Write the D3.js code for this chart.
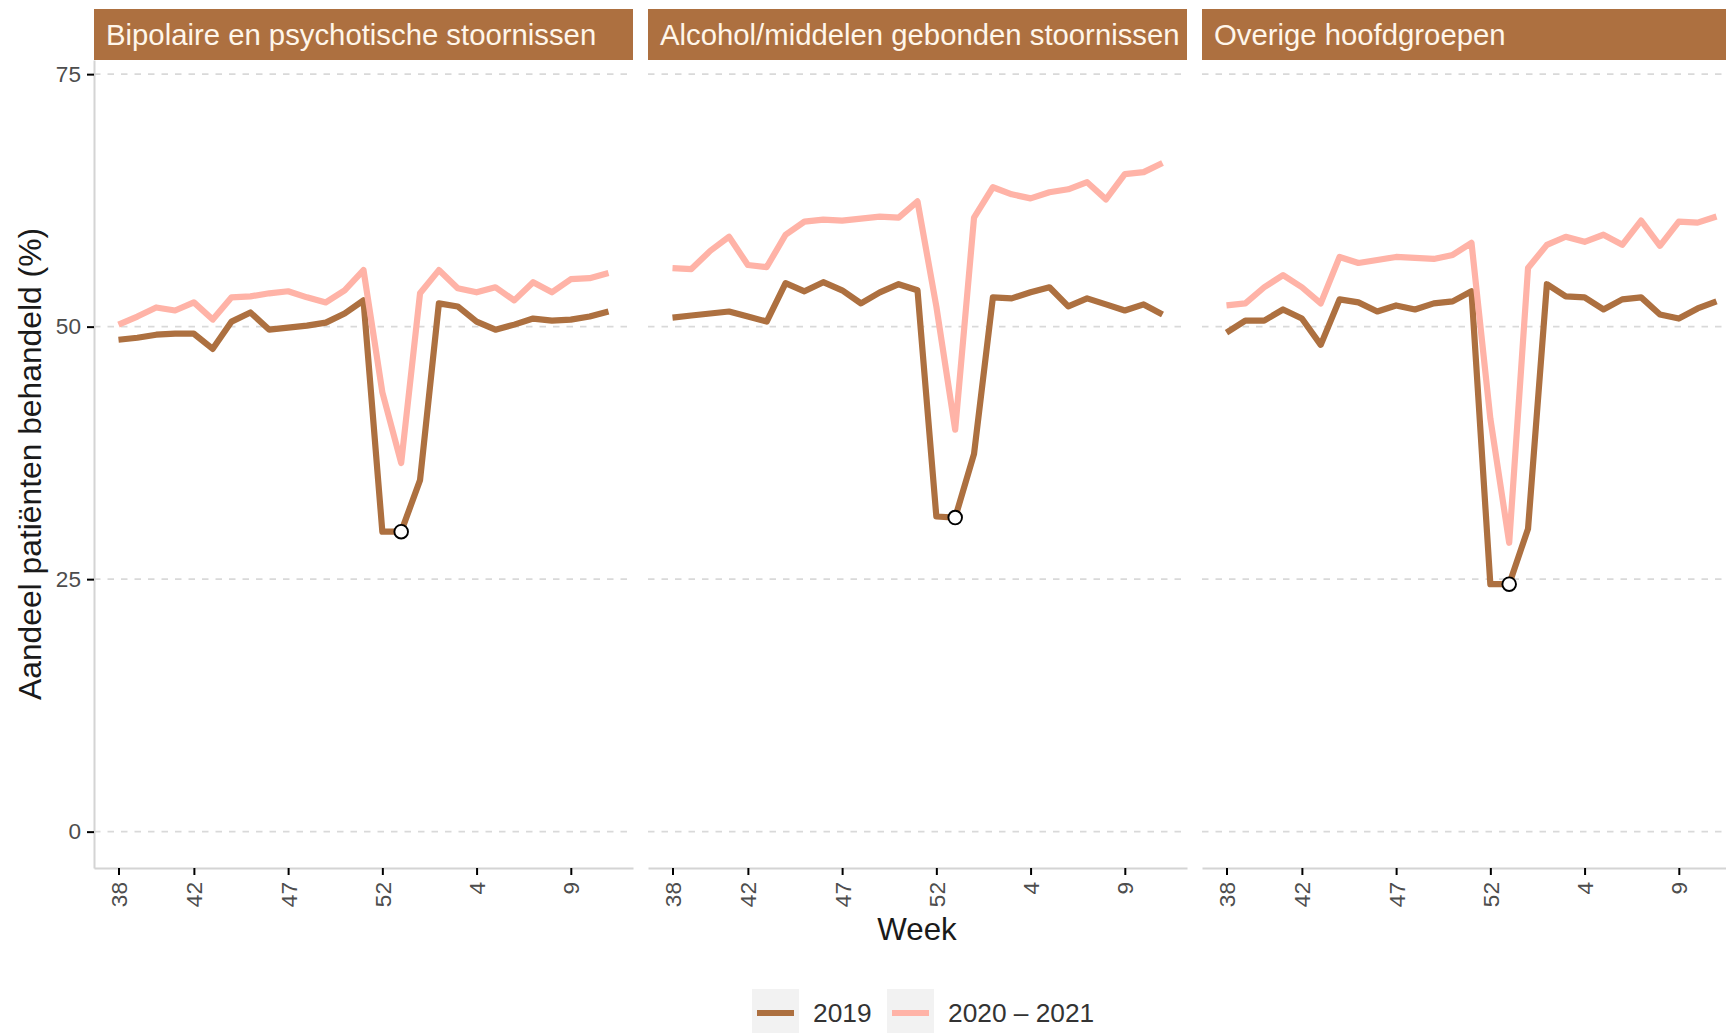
<!DOCTYPE html>
<html>
<head>
<meta charset="utf-8">
<script src="https://cdn.jsdelivr.net/npm/d3@7"></script>
<style>
  body { margin: 0; background: #fff; }
  svg { display: block; font-family: "Liberation Sans", Arial, sans-serif; }
</style>
</head>
<body>
<svg id="chart" width="1726" height="1033"></svg>
<script>
// week labels along the x axis (2020 had a week 53)
const weekLabels = [38, 39, 40, 41, 42, 43, 44, 45, 46, 47, 48, 49, 50, 51, 52, 53,
                    1, 2, 3, 4, 5, 6, 7, 8, 9, 10, 11];
const tickWeeks = [38, 42, 47, 52, 4, 9];
const yTicks = [0, 25, 50, 75];

const panelTitles = ["Bipolaire en psychotische stoornissen",
                     "Alcohol/middelen gebonden stoornissen",
                     "Overige hoofdgroepen"];
const seriesNames = ["2019", "2020 \u2013 2021"];

// share of patients treated (%) per week
const bipolar2019 = [48.7, 48.9, 49.2, 49.3, 49.3, 47.8, 50.5, 51.4, 49.7, 49.9, 50.1, 50.4, 51.3, 52.6,
                     29.7, 29.7, 34.8, 52.3, 52.0, 50.5, 49.7, 50.2, 50.8, 50.6, 50.7, 51.0, 51.5];
const bipolar2021 = [50.2, 51.0, 51.9, 51.6, 52.4, 50.7, 52.9, 53.0, 53.3, 53.5, 52.9, 52.4, 53.6, 55.6,
                     43.5, 36.5, 53.3, 55.6, 53.8, 53.4, 53.9, 52.6, 54.4, 53.4, 54.7, 54.8, 55.3];
const alcohol2019 = [50.9, 51.1, 51.3, 51.5, 51.0, 50.5, 54.3, 53.5, 54.4, 53.6, 52.3, 53.4, 54.2, 53.6,
                     31.2, 31.1, 37.4, 52.9, 52.8, 53.4, 53.9, 52.0, 52.8, 52.2, 51.6, 52.2, 51.2];
const alcohol2021 = [55.8, 55.7, 57.5, 58.9, 56.1, 55.9, 59.1, 60.4, 60.6, 60.5, 60.7, 60.9, 60.8, 62.4,
                     52.0, 39.8, 60.8, 63.8, 63.1, 62.7, 63.3, 63.6, 64.3, 62.6, 65.1, 65.3, 66.2];
const overig2019 = [49.4, 50.6, 50.6, 51.7, 50.8, 48.2, 52.7, 52.4, 51.5, 52.1, 51.7, 52.3, 52.5, 53.5,
                    24.5, 24.5, 30.0, 54.2, 53.0, 52.9, 51.7, 52.7, 52.9, 51.2, 50.8, 51.8, 52.5];
const overig2021 = [52.1, 52.3, 53.9, 55.1, 53.9, 52.3, 56.9, 56.3, 56.6, 56.9, 56.8, 56.7, 57.1, 58.3,
                    40.9, 28.6, 55.8, 58.1, 58.9, 58.4, 59.1, 58.1, 60.5, 58.0, 60.4, 60.3, 60.9];

const markerWeek = 53; // highlighted point on the 2019 line

const panelData = [
    [bipolar2019, bipolar2021],
    [alcohol2019, alcohol2021],
    [overig2019, overig2021]
];

const colors = ["#ad7040", "#ffb3a7"];

const svg = d3.select("#chart");

const panelLeft = [94, 648, 1202];
const panelW = 539;
const panelTop = 60;
const panelH = 808;
const stripTop = 9;

const x = d3.scaleLinear()
    .domain([-1.3, weekLabels.length - 1 + 1.3])
    .range([0, panelW]);

const y = d3.scaleLinear()
    .domain([-3.6, 76.4])
    .range([panelH, 0]);

const line = d3.line()
    .x((d, i) => x(i))
    .y(d => y(d));

panelData.forEach((series, p) => {
    const g = svg.append("g")
        .attr("transform", `translate(${panelLeft[p]}, ${panelTop})`);

    // strip
    svg.append("rect")
        .attr("x", panelLeft[p])
        .attr("y", stripTop)
        .attr("width", panelW)
        .attr("height", panelTop - stripTop)
        .attr("fill", "#ad7040");
    svg.append("text")
        .attr("x", panelLeft[p] + 12)
        .attr("y", 45)
        .attr("fill", "#fff6ea")
        .style("font-size", "29.3px")
        .text(panelTitles[p]);

    // gridlines
    g.selectAll(".grid")
        .data(yTicks)
        .enter()
        .append("line")
        .attr("x1", 0)
        .attr("x2", panelW)
        .attr("y1", d => y(d))
        .attr("y2", d => y(d))
        .attr("stroke", "#d9d9d9")
        .attr("stroke-width", 1.6)
        .attr("stroke-dasharray", "6.5 7");

    // x axis
    const xAxis = d3.axisBottom(x)
        .tickValues(tickWeeks.map(w => weekLabels.indexOf(w)))
        .tickFormat(i => weekLabels[i])
        .tickSize(7)
        .tickSizeOuter(0);
    const xg = g.append("g")
        .attr("transform", `translate(0, ${panelH})`)
        .call(xAxis);
    xg.select(".domain").attr("stroke", "#d4d4d4").attr("stroke-width", 2);
    xg.selectAll(".tick line").attr("stroke", "#000").attr("stroke-width", 2);
    xg.selectAll(".tick text")
        .attr("transform", "rotate(-90)")
        .attr("x", -14)
        .attr("y", 0)
        .attr("dy", "0.35em")
        .attr("text-anchor", "end")
        .attr("fill", "#4d4d4d")
        .style("font-size", "22.6px");

    // y axis only on the first panel
    if (p === 0) {
        const yAxis = d3.axisLeft(y)
            .tickValues(yTicks)
            .tickSize(7)
            .tickSizeOuter(0)
            .tickPadding(6);
        const yg = g.append("g").call(yAxis);
        yg.select(".domain").attr("stroke", "#d4d4d4").attr("stroke-width", 2);
        yg.selectAll(".tick line").attr("stroke", "#000").attr("stroke-width", 2);
        yg.selectAll(".tick text")
            .attr("fill", "#4d4d4d")
            .style("font-size", "22.6px");
    }

    // lines
    series.forEach((vals, s) => {
        g.append("path")
            .datum(vals)
            .attr("d", line)
            .attr("fill", "none")
            .attr("stroke", colors[s])
            .attr("stroke-width", 6.2)
            .attr("stroke-linejoin", "round");
    });

    // marker
    const mi = weekLabels.indexOf(markerWeek);
    g.append("circle")
        .attr("cx", x(mi))
        .attr("cy", y(series[0][mi]))
        .attr("r", 6.8)
        .attr("fill", "#fff")
        .attr("stroke", "#000")
        .attr("stroke-width", 1.9);
});

// axis titles
svg.append("text")
    .attr("x", 917)
    .attr("y", 940)
    .attr("text-anchor", "middle")
    .attr("fill", "#1a1a1a")
    .style("font-size", "31.3px")
    .text("Week");

svg.append("text")
    .attr("transform", `translate(41, ${panelTop + panelH / 2}) rotate(-90)`)
    .attr("text-anchor", "middle")
    .attr("fill", "#1a1a1a")
    .style("font-size", "31.8px")
    .text("Aandeel pati\u00ebnten behandeld (%)");

// legend
const legendX = [752, 887];
seriesNames.forEach((name, s) => {
    const lg = svg.append("g").attr("transform", `translate(${legendX[s]}, 989)`);
    lg.append("rect")
        .attr("width", 47)
        .attr("height", 47)
        .attr("fill", "#f2f2f2");
    lg.append("line")
        .attr("x1", 5)
        .attr("x2", 42)
        .attr("y1", 24)
        .attr("y2", 24)
        .attr("stroke", colors[s])
        .attr("stroke-width", 6.2);
    lg.append("text")
        .attr("x", 61)
        .attr("y", 24)
        .attr("dy", "0.35em")
        .attr("fill", "#333")
        .style("font-size", "26.3px")
        .text(name);
});
</script>
</body>
</html>
